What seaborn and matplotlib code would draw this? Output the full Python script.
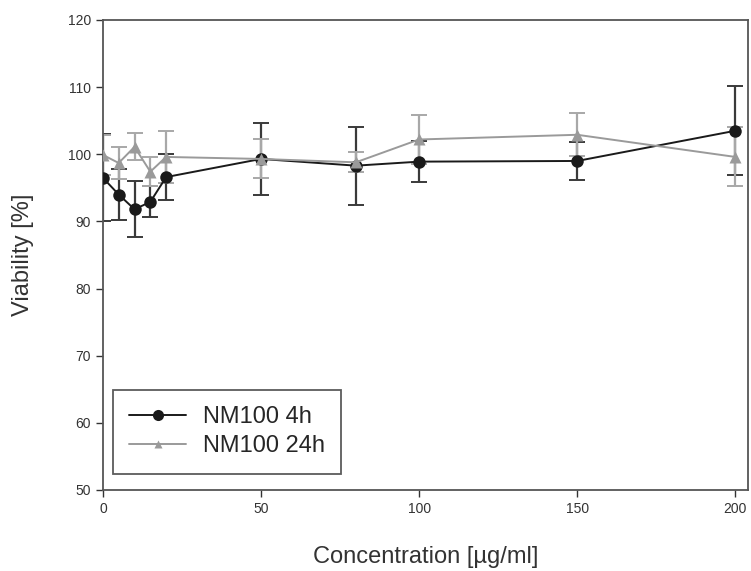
import numpy as np
import pandas as pd
import matplotlib
matplotlib.use('Agg')
import matplotlib.pyplot as plt
import seaborn as sns

conc = [0, 5, 10, 15, 20, 50, 80, 100, 150, 200]
via_4h = [96.5, 94.0, 91.8, 92.9, 96.6, 99.3, 98.3, 98.9, 99.0, 103.5]
err_4h = [6.5, 3.8, 4.2, 2.3, 3.4, 5.4, 5.8, 3.1, 2.8, 6.6]
via_24h = [99.9, 98.7, 101.1, 97.4, 99.6, 99.3, 98.8, 102.2, 102.9, 99.6]
err_24h = [3.0, 2.4, 2.0, 2.2, 3.9, 2.9, 1.5, 3.6, 3.2, 4.4]
labels = ['NM100 4h', 'NM100 24h']

df = pd.DataFrame({
    'conc': conc * 2,
    'viability': via_4h + via_24h,
    'err': err_4h + err_24h,
    'series': [labels[0]] * len(conc) + [labels[1]] * len(conc),
})

sns.set_style('ticks')
plt.rcParams['font.family'] = ['Liberation Sans', 'DejaVu Sans']

fig = plt.figure(figsize=(7.51, 5.71), dpi=100)
ax = fig.add_axes([0.137, 0.142, 0.859, 0.823])

line_cols = {labels[0]: '#1a1a1a', labels[1]: '#9a9a9a'}
bar_cols = {labels[0]: '#3a3a3a', labels[1]: '#a8a8a8'}

for name, grp in df.groupby('series', sort=False):
    ax.errorbar(grp['conc'], grp['viability'], yerr=grp['err'], fmt='none',
                ecolor=bar_cols[name], elinewidth=1.6, capsize=6, capthick=1.4, zorder=1)

sns.lineplot(data=df, x='conc', y='viability', hue='series', style='series',
             palette=line_cols, markers={labels[0]: 'o', labels[1]: '^'},
             dashes=False, markersize=9, markeredgecolor='none', linewidth=1.4,
             ax=ax, zorder=3)

ax.set_xlim(0, 204)
ax.set_ylim(50, 120)
ax.set_xticks([0, 50, 100, 150, 200])
ax.set_yticks(np.arange(50, 121, 10))
ax.tick_params(labelsize=10, colors='#333333', length=5, width=1)
for s in ax.spines.values():
    s.set_color('#555555')
    s.set_linewidth(1.3)

ax.set_xlabel('Concentration [µg/ml]', fontsize=17, color='#333333', labelpad=22)
ax.set_ylabel('Viability [%]', fontsize=17, color='#333333', labelpad=24)

leg = ax.legend(loc='lower left', bbox_to_anchor=(0.0155, 0.034), borderaxespad=0,
                fontsize=17, frameon=True, fancybox=False, edgecolor='#333333',
                handlelength=2.4, handletextpad=0.7, borderpad=0.7, labelspacing=0.3)
leg.get_frame().set_linewidth(1.3)
leg.get_lines()[0].set_markersize(8)
leg.get_lines()[1].set_markersize(6)

fig.savefig('out.png', dpi=100)
